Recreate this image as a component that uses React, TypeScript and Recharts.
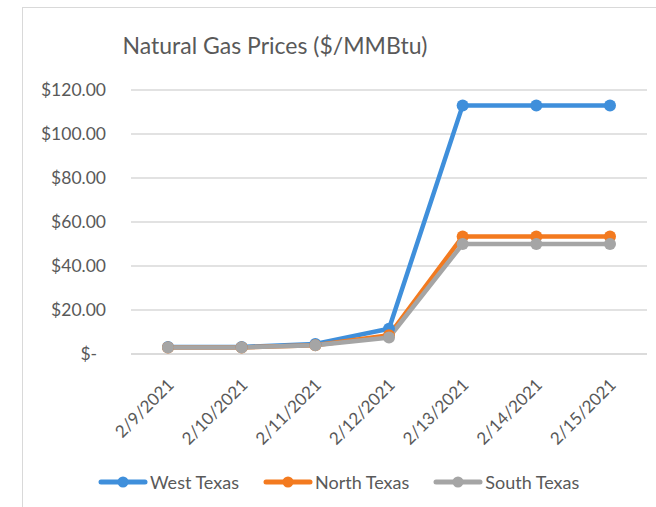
import React from 'react';
import { LineChart, Line, XAxis, YAxis, CartesianGrid } from 'recharts';

const dates = ['2/9/2021', '2/10/2021', '2/11/2021', '2/12/2021', '2/13/2021', '2/14/2021', '2/15/2021'];
const westTexas = [3.2, 3.2, 4.6, 11.5, 113, 113, 113];
const northTexas = [3.0, 3.0, 4.0, 8.5, 53.4, 53.4, 53.4];
const southTexas = [3.0, 3.0, 4.0, 7.5, 50.0, 50.0, 50.0];
const yTicks = [0, 20, 40, 60, 80, 100, 120];

const SERIES = [
  { key: 'west', name: 'West Texas', color: '#3F8FDB' },
  { key: 'north', name: 'North Texas', color: '#F37A1F' },
  { key: 'south', name: 'South Texas', color: '#A5A5A5' },
];

const FONT = 'Lato, "Open Sans", sans-serif';
const TEXT = '#595959';

const formatDollar = (v: number) => (v === 0 ? '$-\u00a0\u00a0' : `$${v.toFixed(2)}`);

const DateTick = ({ x, y, payload }: any) => (
  <text
    x={x + 7}
    y={y + 24}
    transform={`rotate(-45, ${x + 7}, ${y + 24})`}
    textAnchor="end"
    fill={TEXT}
    fontSize={17}
    fontFamily={FONT}
  >
    {payload.value}
  </text>
);

// legend drawn by hand so it doesn't eat plot height
const ChartLegend = () => (
  <div
    style={{
      position: 'absolute',
      left: 98,
      top: 471,
      display: 'flex',
      gap: 24,
      fontFamily: FONT,
      fontSize: 18,
      color: TEXT,
    }}
  >
    {SERIES.map((s) => (
      <div key={s.key} style={{ display: 'flex', alignItems: 'center' }}>
        <svg width={50} height={14} style={{ marginRight: 2 }}>
          <line x1={3} y1={7} x2={47} y2={7} stroke={s.color} strokeWidth={5} strokeLinecap="round" />
          <circle cx={25} cy={7} r={5.5} fill={s.color} />
        </svg>
        <span>{s.name}</span>
      </div>
    ))}
  </div>
);

export default function App() {
  const data = dates.map((d, i) => ({
    date: d,
    west: westTexas[i],
    north: northTexas[i],
    south: southTexas[i],
  }));

  return (
    <div style={{ position: 'absolute', left: 0, top: 0, width: 656, height: 507, overflow: 'hidden', background: '#fff' }}>
      <div
        style={{
          position: 'absolute',
          left: 22,
          top: 7,
          width: 700,
          height: 600,
          border: '1.5px solid #d9d9d9',
        }}
      />
      <div
        style={{
          position: 'absolute',
          left: 0,
          width: 550,
          top: 31,
          textAlign: 'center',
          fontFamily: FONT,
          fontSize: 23,
          color: TEXT,
        }}
      >
        Natural Gas Prices ($/MMBtu)
      </div>
      <div style={{ position: 'absolute', left: 0, top: 0 }}>
        <LineChart width={656} height={507} data={data} margin={{ top: 90, right: 9, bottom: 50, left: 0 }}>
          <CartesianGrid vertical={false} stroke="#d9d9d9" strokeWidth={1.5} />
          <XAxis
            dataKey="date"
            tick={<DateTick />}
            tickLine={false}
            axisLine={{ stroke: '#d9d9d9', strokeWidth: 1.5 }}
            interval={0}
            height={103}
            padding={{ left: 37, right: 37 }}
          />
          <YAxis
            width={131}
            domain={[0, 120]}
            ticks={yTicks}
            tickFormatter={formatDollar}
            axisLine={false}
            tickLine={false}
            tickSize={0}
            tickMargin={25}
            tick={{ fill: TEXT, fontSize: 17.5, fontFamily: FONT }}
          />
          {SERIES.map((s) => (
            <Line
              key={s.key}
              dataKey={s.key}
              name={s.name}
              stroke={s.color}
              strokeWidth={4.5}
              dot={{ r: 6, fill: s.color, stroke: s.color, strokeWidth: 0 }}
              isAnimationActive={false}
            />
          ))}
        </LineChart>
      </div>
      <ChartLegend />
    </div>
  );
}
